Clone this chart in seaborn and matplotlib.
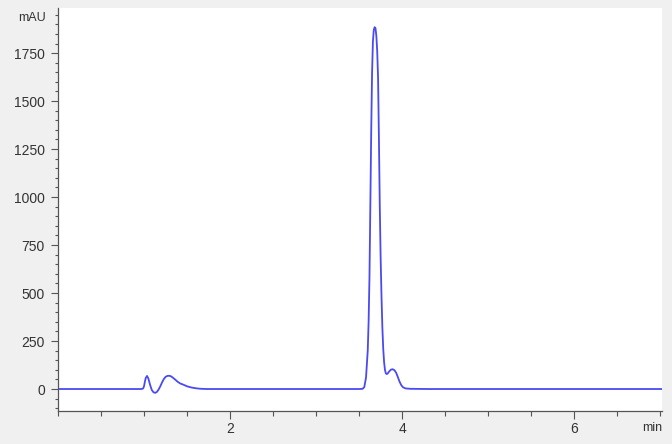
import matplotlib
matplotlib.use('Agg')
import matplotlib.pyplot as plt
import seaborn as sns
import pandas as pd
from matplotlib.ticker import MultipleLocator

# Chromatogram trace (time in min, signal in mAU)
time_min = [
    0.00, 0.50, 0.90, 0.97, 0.99, 1.00, 1.01, 1.02, 1.035, 1.05, 1.07, 1.09,
    1.11, 1.13, 1.15, 1.17, 1.19, 1.21, 1.23, 1.25, 1.27, 1.29, 1.31, 1.33,
    1.36, 1.39, 1.42, 1.46, 1.50, 1.55, 1.60, 1.65, 1.72, 2.00, 2.50, 3.00,
    3.40, 3.50, 3.54, 3.56, 3.58, 3.60, 3.61, 3.62, 3.63, 3.64, 3.65, 3.66,
    3.67, 3.68, 3.69, 3.70, 3.71, 3.72, 3.73, 3.74, 3.75, 3.76, 3.77, 3.78,
    3.79, 3.80, 3.81, 3.82, 3.83, 3.85, 3.87, 3.89, 3.91, 3.93, 3.95, 3.97,
    3.99, 4.01, 4.04, 4.10, 4.30, 5.00, 6.00, 7.02,
]
signal_mau = [
    0, 0, 0, 0, 3, 15, 38, 58, 68, 55, 22, -5,
    -17, -20, -15, -2, 15, 35, 52, 63, 68, 69, 67, 61,
    50, 38, 29, 22, 14, 8, 4, 1.5, 0, 0, 0, 0,
    0, 0, 1, 10, 60, 200, 350, 580, 950, 1330, 1640, 1810,
    1870, 1885, 1880, 1840, 1760, 1620, 1300, 950, 680, 480, 320, 210,
    140, 100, 82, 78, 80, 92, 101, 103, 98, 85, 62, 38,
    20, 9, 3, 1, 0, 0, 0, 0,
]

y_major = [0, 250, 500, 750, 1000, 1250, 1500, 1750]
x_major = [2, 4, 6]

df = pd.DataFrame({'time': time_min, 'signal': signal_mau})

sns.set_style('ticks')
plt.rcParams['font.family'] = ['Liberation Sans', 'DejaVu Sans']

fig = plt.figure(figsize=(6.72, 4.44), dpi=100, facecolor='#f0f0f0')
ax = fig.add_axes([58 / 672, 1 - 410.7 / 444, 604 / 672, 402.7 / 444])
ax.set_facecolor('white')

sns.lineplot(data=df, x='time', y='signal', ax=ax, color='#4a4af0', linewidth=1.3)

ax.set_xlim(0, 7.02)
ax.set_ylim(-113, 1985)
ax.set_xticks(x_major)
ax.set_xticklabels([str(v) for v in x_major])
ax.xaxis.set_minor_locator(MultipleLocator(0.5))
ax.set_yticks(y_major)
ax.set_yticklabels([str(v) for v in y_major])
ax.yaxis.set_minor_locator(MultipleLocator(50))

ax.tick_params(axis='both', which='major', direction='out', color='#555555',
               labelcolor='#333333', labelsize=10, width=0.8)
ax.tick_params(axis='x', which='major', length=6, pad=2)
ax.tick_params(axis='y', which='major', length=5, pad=4.5)
ax.tick_params(axis='x', which='minor', length=3.5, color='#555555', width=0.8)
ax.tick_params(axis='y', which='minor', length=2.5, color='#555555', width=0.8)

for side in ['top', 'right']:
    ax.spines[side].set_visible(False)
for side in ['left', 'bottom']:
    ax.spines[side].set_color('#555555')
    ax.spines[side].set_linewidth(0.9)

ax.set_xlabel('')
ax.set_ylabel('')

# Unit labels in the axis corners
ax.annotate('mAU', xy=(0, 1932), xycoords=('axes fraction', 'data'),
            xytext=(-9, 0), textcoords='offset points', ha='right', va='center',
            fontsize=9, color='#333333')
ax.annotate('min', xy=(1, 0), xycoords='axes fraction',
            xytext=(0, -8), textcoords='offset points', ha='right', va='top',
            fontsize=9, color='#333333')

fig.savefig('out.png', dpi=100, facecolor=fig.get_facecolor())
